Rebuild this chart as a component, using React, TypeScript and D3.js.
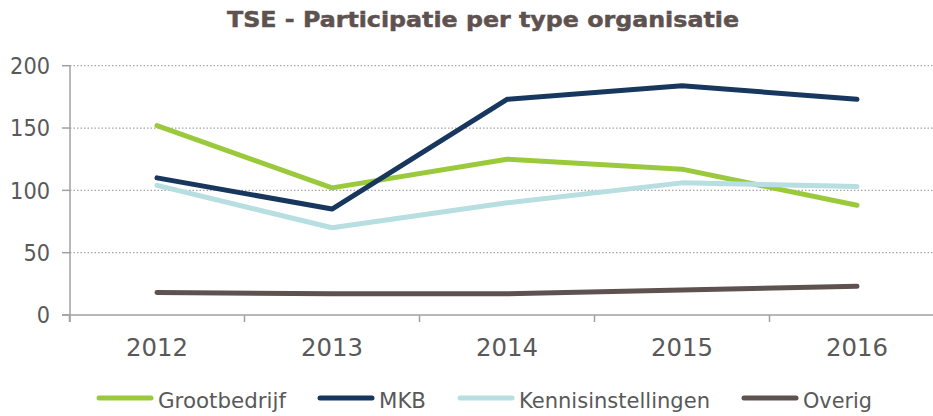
import React from "react";
import * as d3 from "d3";

const years = ["2012", "2013", "2014", "2015", "2016"];
const grootbedrijf = [152, 102, 125, 117, 88];
const mkb = [110, 85, 173, 184, 173];
const kennisinstellingen = [104, 70, 90, 106, 103];
const overig = [18, 17, 17, 20, 23];
const yTicks = [0, 50, 100, 150, 200];
const seriesNames = ["Grootbedrijf", "MKB", "Kennisinstellingen", "Overig"];
const seriesColors = ["#9ACA3C", "#17375E", "#B7DEE1", "#5E5250"];

const W = 933;
const H = 416;

export default function App() {
  const series = [grootbedrijf, mkb, kennisinstellingen, overig];
  const x = d3.scaleBand<string>().domain(years).range([69.5, 944.5]);
  const y = d3.scaleLinear().domain([0, 200]).range([315, 65.7]);
  const cx = (yr: string) => (x(yr) as number) + x.bandwidth() / 2;
  const line = d3
    .line<number>()
    .x((_, i) => cx(years[i]))
    .y((v) => y(v));

  const font = "'DejaVu Sans', Verdana, sans-serif";
  const textColor = "#595959";
  const axisColor = "#A0A0A0";

  // legend layout
  const legendTextWidths = [128, 47, 191, 69];
  const legendStart = 97;
  const lineLen = 56;
  const textGap = 5;
  const legendGap = 32;
  let acc = legendStart;
  const legendItems = seriesNames.map((name, i) => {
    const x0 = acc;
    acc += lineLen + textGap + legendTextWidths[i] + legendGap;
    return { name, color: seriesColors[i], x0, tw: legendTextWidths[i] };
  });

  return (
    <svg
      width={W}
      height={H}
      style={{ position: "fixed", left: 0, top: 0, background: "#fff" }}
      fontFamily={font}
    >
      <text
        x={227}
        y={26.7}
        fontSize={22}
        fontWeight="bold"
        fill="#5E5250"
        stroke="#5E5250"
        strokeWidth={0.5}
        textLength={512}
        lengthAdjust="spacingAndGlyphs"
      >
        TSE - Participatie per type organisatie
      </text>

      {/* gridlines */}
      {yTicks.filter((t) => t > 0).map((t) => (
        <line
          key={"g" + t}
          x1={70}
          x2={W}
          y1={y(t)}
          y2={y(t)}
          stroke="#A6A6A6"
          strokeWidth={1.2}
          strokeDasharray="1.5,2"
        />
      ))}
      {/* y ticks */}
      {yTicks.map((t) => (
        <g key={"yt" + t}>
          <line x1={62} x2={70} y1={y(t)} y2={y(t)} stroke={axisColor} strokeWidth={1.5} />
          <text
            x={50}
            y={y(t)}
            dy="0.36em"
            textAnchor="end"
            fontSize={23}
            fill={textColor}
            textLength={String(t).length * 13.3}
            lengthAdjust="spacingAndGlyphs"
          >
            {t}
          </text>
        </g>
      ))}
      {/* y axis */}
      <line x1={70} x2={70} y1={y(200)} y2={y(0) + 7} stroke={axisColor} strokeWidth={1.5} />
      {/* x axis */}
      <line x1={62} x2={W} y1={y(0)} y2={y(0)} stroke={axisColor} strokeWidth={1.5} />
      {years.map((yr) => (
        <g key={"xt" + yr}>
          <line
            x1={x(yr) as number}
            x2={x(yr) as number}
            y1={y(0)}
            y2={y(0) + 7}
            stroke={axisColor}
            strokeWidth={1.5}
          />
          <text
            x={cx(yr)}
            y={356}
            textAnchor="middle"
            fontSize={25}
            fill={textColor}
            textLength={62}
            lengthAdjust="spacingAndGlyphs"
          >
            {yr}
          </text>
        </g>
      ))}

      {/* series */}
      {series.map((s, i) => (
        <path
          key={"s" + i}
          d={line(s) || ""}
          fill="none"
          stroke={seriesColors[i]}
          strokeWidth={5}
          strokeLinecap="round"
          strokeLinejoin="round"
        />
      ))}

      {/* legend */}
      {legendItems.map((it) => (
        <g key={"l" + it.name}>
          <line
            x1={it.x0 + 2}
            x2={it.x0 + lineLen - 2}
            y1={398}
            y2={398}
            stroke={it.color}
            strokeWidth={5}
            strokeLinecap="round"
          />
          <text
            x={it.x0 + lineLen + textGap}
            y={408}
            fontSize={22}
            fill={textColor}
            textLength={it.tw}
            lengthAdjust="spacingAndGlyphs"
          >
            {it.name}
          </text>
        </g>
      ))}
    </svg>
  );
}
